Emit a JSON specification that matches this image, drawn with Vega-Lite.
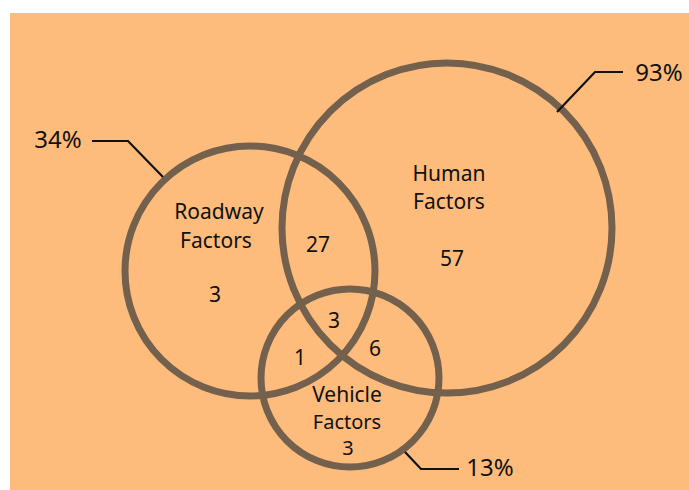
{
  "$schema": "https://vega.github.io/schema/vega-lite/v6.json",
  "width": 689,
  "height": 490,
  "autosize": {"type": "fit", "contains": "padding"},
  "padding": 0,
  "background": "#ffffff",
  "config": {"view": {"stroke": null}},
  "layer": [
    {
      "data": {"values": [{"x": 10, "x2": 689, "y": 13, "y2": 490}]},
      "mark": {"type": "rect", "fill": "#FDBB7C"},
      "encoding": {
        "x": {"field": "x", "type": "quantitative", "scale": {"domain": [0, 689], "nice": false}, "axis": null},
        "x2": {"field": "x2"},
        "y": {"field": "y", "type": "quantitative", "scale": {"domain": [0, 490], "nice": false, "reverse": true}, "axis": null},
        "y2": {"field": "y2"}
      }
    },
    {
      "data": {"values": [
        {"set": "Roadway Factors", "x": 250, "y": 271, "d": 250},
        {"set": "Human Factors", "x": 447, "y": 228, "d": 330},
        {"set": "Vehicle Factors", "x": 350, "y": 378, "d": 178}
      ]},
      "transform": [{"calculate": "datum.d * datum.d", "as": "area"}],
      "mark": {"type": "point", "shape": "circle", "filled": false, "stroke": "#73604D", "strokeWidth": 7, "opacity": 1},
      "encoding": {
        "x": {"field": "x", "type": "quantitative", "scale": {"domain": [0, 689], "nice": false}, "axis": null},
        "y": {"field": "y", "type": "quantitative", "scale": {"domain": [0, 490], "nice": false, "reverse": true}, "axis": null},
        "size": {"field": "area", "type": "quantitative", "scale": null, "legend": null}
      }
    },
    {
      "data": {"values": [
        {"g": "34", "o": 1, "x": 92, "y": 141},
        {"g": "34", "o": 2, "x": 128, "y": 141},
        {"g": "34", "o": 3, "x": 163, "y": 177},
        {"g": "93", "o": 1, "x": 623, "y": 72},
        {"g": "93", "o": 2, "x": 595, "y": 72},
        {"g": "93", "o": 3, "x": 557, "y": 112},
        {"g": "13", "o": 1, "x": 459, "y": 469},
        {"g": "13", "o": 2, "x": 421, "y": 469},
        {"g": "13", "o": 3, "x": 405, "y": 452}
      ]},
      "mark": {"type": "line", "color": "#111111", "strokeWidth": 2.2},
      "encoding": {
        "x": {"field": "x", "type": "quantitative", "scale": {"domain": [0, 689], "nice": false}, "axis": null},
        "y": {"field": "y", "type": "quantitative", "scale": {"domain": [0, 490], "nice": false, "reverse": true}, "axis": null},
        "detail": {"field": "g", "type": "nominal"},
        "order": {"field": "o", "type": "quantitative"}
      }
    },
    {
      "data": {"values": [
        {"label": "Roadway", "x": 219, "y": 213},
        {"label": "Factors", "x": 216, "y": 242},
        {"label": "3", "x": 215, "y": 296},
        {"label": "27", "x": 318, "y": 246},
        {"label": "Human", "x": 449, "y": 175},
        {"label": "Factors", "x": 449, "y": 203},
        {"label": "57", "x": 452, "y": 260},
        {"label": "3", "x": 334, "y": 322},
        {"label": "1", "x": 300, "y": 359},
        {"label": "6", "x": 375, "y": 350},
        {"label": "Vehicle", "x": 347, "y": 396}
      ]},
      "mark": {"type": "text", "font": "Noto Sans", "fontSize": 21, "color": "#111111", "align": "center", "baseline": "middle"},
      "encoding": {
        "x": {"field": "x", "type": "quantitative", "scale": {"domain": [0, 689], "nice": false}, "axis": null},
        "y": {"field": "y", "type": "quantitative", "scale": {"domain": [0, 490], "nice": false, "reverse": true}, "axis": null},
        "text": {"field": "label", "type": "nominal"}
      }
    },
    {
      "data": {"values": [
        {"label": "Factors", "x": 347, "y": 423},
        {"label": "3", "x": 348, "y": 449}
      ]},
      "mark": {"type": "text", "font": "Noto Sans", "fontSize": 20, "color": "#111111", "align": "center", "baseline": "middle"},
      "encoding": {
        "x": {"field": "x", "type": "quantitative", "scale": {"domain": [0, 689], "nice": false}, "axis": null},
        "y": {"field": "y", "type": "quantitative", "scale": {"domain": [0, 490], "nice": false, "reverse": true}, "axis": null},
        "text": {"field": "label", "type": "nominal"}
      }
    },
    {
      "data": {"values": [
        {"label": "34%", "x": 58, "y": 141},
        {"label": "93%", "x": 659, "y": 74},
        {"label": "13%", "x": 490, "y": 469}
      ]},
      "mark": {"type": "text", "font": "Noto Sans", "fontSize": 24, "color": "#111111", "align": "center", "baseline": "middle"},
      "encoding": {
        "x": {"field": "x", "type": "quantitative", "scale": {"domain": [0, 689], "nice": false}, "axis": null},
        "y": {"field": "y", "type": "quantitative", "scale": {"domain": [0, 490], "nice": false, "reverse": true}, "axis": null},
        "text": {"field": "label", "type": "nominal"}
      }
    }
  ]
}
